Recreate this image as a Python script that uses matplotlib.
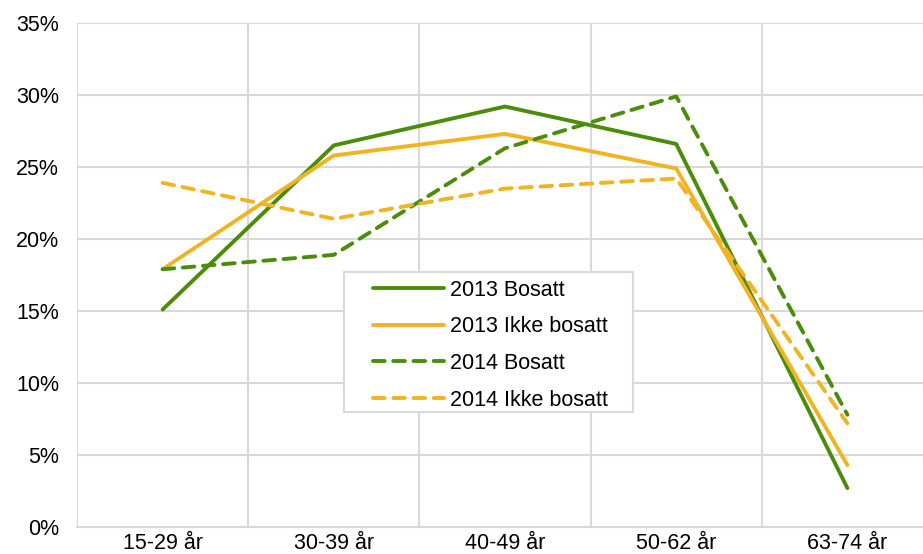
import matplotlib
matplotlib.use('Agg')
import matplotlib.pyplot as plt
from matplotlib.patches import Rectangle
from matplotlib.ticker import FuncFormatter, FixedLocator

categories = ['15-29 år', '30-39 år', '40-49 år', '50-62 år', '63-74 år']
bosatt_2013 = [15.1, 26.5, 29.2, 26.6, 2.7]
ikke_bosatt_2013 = [17.9, 25.8, 27.3, 24.9, 4.3]
bosatt_2014 = [17.9, 18.9, 26.3, 29.9, 7.8]
ikke_bosatt_2014 = [23.9, 21.4, 23.5, 24.2, 7.2]
y_ticks = [0, 5, 10, 15, 20, 25, 30, 35]

GREEN = '#4b8c0a'
ORANGE = '#f0b323'
GRID = '#d9d9d9'

plt.rcParams['font.family'] = ['Liberation Sans', 'DejaVu Sans']

fig = plt.figure(figsize=(9.23, 5.54), dpi=100)
W, H = 923, 554
left, right, top, bottom = 77, 933, 23, 527
ax = fig.add_axes([left / W, 1 - bottom / H, (right - left) / W, (bottom - top) / H])

x = list(range(len(categories)))
lw = 2.8
dash = (3.0, 2.2)
ax.plot(x, bosatt_2013, color=GREEN, lw=lw, solid_capstyle='round', solid_joinstyle='round', label='2013 Bosatt', zorder=3)
ax.plot(x, ikke_bosatt_2013, color=ORANGE, lw=lw, solid_capstyle='round', solid_joinstyle='round', label='2013 Ikke bosatt', zorder=3)
ax.plot(x, bosatt_2014, color=GREEN, lw=lw, dashes=dash, dash_capstyle='round', dash_joinstyle='round', label='2014 Bosatt', zorder=3)
ax.plot(x, ikke_bosatt_2014, color=ORANGE, lw=lw, dashes=dash, dash_capstyle='round', dash_joinstyle='round', label='2014 Ikke bosatt', zorder=3)

ax.set_xlim(-0.5, len(categories) - 0.5)
ax.set_ylim(0, 35)
ax.set_xticks(x)
ax.set_xticklabels(categories)
ax.xaxis.set_minor_locator(FixedLocator([i - 0.5 for i in range(len(categories) + 1)]))
ax.set_yticks(y_ticks)
ax.yaxis.set_major_formatter(FuncFormatter(lambda v, p: f'{v:.0f}%'))

ax.grid(False)
ax.yaxis.grid(True, which='major', color=GRID, lw=1.5)
ax.xaxis.grid(True, which='minor', color=GRID, lw=1.5)
ax.set_axisbelow(True)
for s in ['top', 'right', 'left']:
    ax.spines[s].set_visible(False)
ax.spines['bottom'].set_color(GRID)
ax.spines['bottom'].set_linewidth(1.5)

ax.tick_params(axis='both', which='both', length=0, labelsize=15.5, colors='black')
ax.tick_params(axis='y', pad=13)
ax.tick_params(axis='x', pad=4)

# legend frame
lx0, ly0, lx1, ly1 = 344, 272, 633, 412
rect = Rectangle((lx0 / W, 1 - ly1 / H), (lx1 - lx0) / W, (ly1 - ly0) / H,
                 transform=fig.transFigure, facecolor='white', edgecolor=GRID, lw=1.5, zorder=5)
fig.patches.append(rect)

leg = fig.legend(loc='upper left', bbox_to_anchor=(373 / W, 1 - 280 / H), frameon=False,
                 fontsize=15.5, handlelength=3.3, handletextpad=0.3, labelspacing=0.72,
                 borderaxespad=0, borderpad=0)
leg.set_zorder(6)

fig.savefig('out.png', dpi=100)
